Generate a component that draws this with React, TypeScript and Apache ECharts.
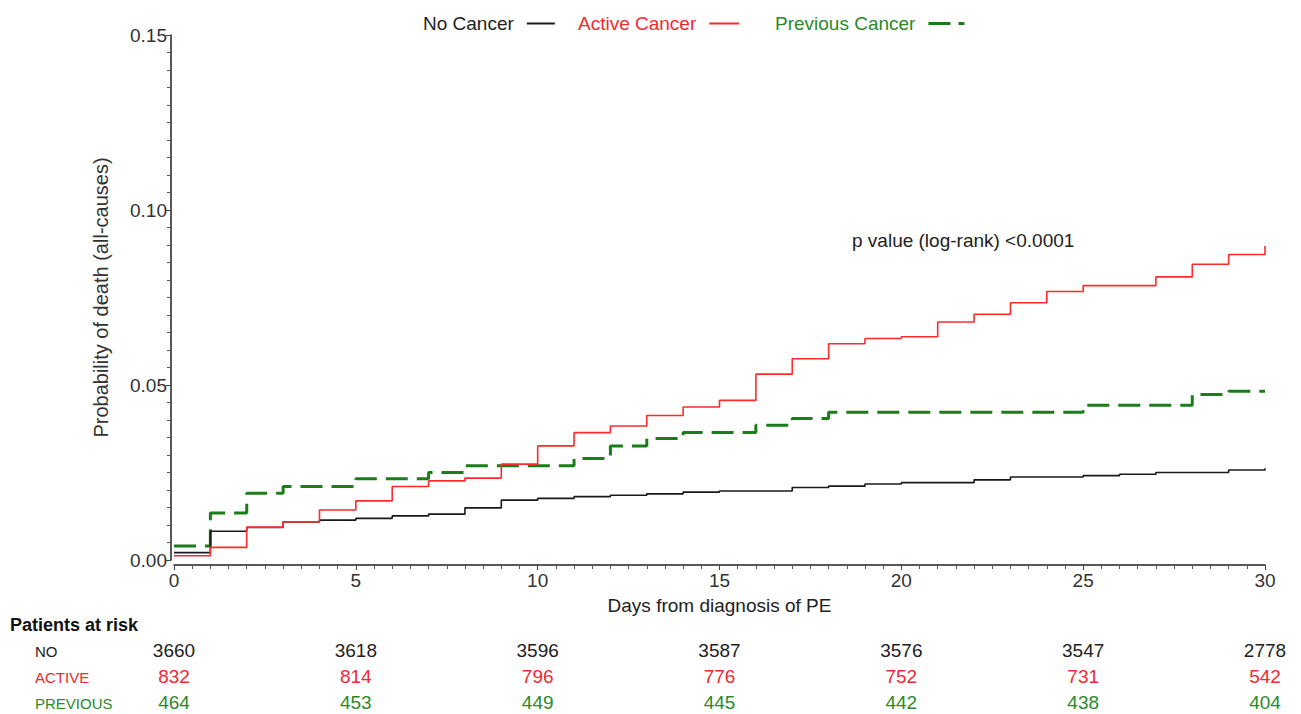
import React, { useEffect, useRef } from "react";
import * as echarts from "echarts";

const days = [0, 1, 2, 3, 4, 5, 6, 7, 8, 9, 10, 11, 12, 13, 14, 15, 16, 17, 18, 19, 20, 21, 22, 23, 24, 25, 26, 27, 28, 29, 30];

const noCancer = [0.0021, 0.0082, 0.0093, 0.0109, 0.0114, 0.0119, 0.0126, 0.0131, 0.0149, 0.0171, 0.0176, 0.0181, 0.0185, 0.0189, 0.0194, 0.0197, 0.0197, 0.0207, 0.0211, 0.0217, 0.0221, 0.0221, 0.0229, 0.0237, 0.0237, 0.0241, 0.0245, 0.025, 0.025, 0.0257, 0.0262];
const activeCancer = [0.0012, 0.0036, 0.0094, 0.0109, 0.0143, 0.0169, 0.021, 0.0226, 0.0234, 0.0274, 0.0326, 0.0364, 0.0383, 0.0413, 0.0437, 0.0456, 0.0531, 0.0575, 0.0618, 0.0633, 0.0638, 0.068, 0.0702, 0.0735, 0.0767, 0.0784, 0.0784, 0.0809, 0.0845, 0.0873, 0.0897];
const previousCancer = [0.004, 0.0134, 0.0191, 0.021, 0.021, 0.0232, 0.0232, 0.025, 0.0269, 0.0269, 0.0269, 0.029, 0.0326, 0.0347, 0.0364, 0.0364, 0.0385, 0.0404, 0.0422, 0.0422, 0.0422, 0.0422, 0.0422, 0.0422, 0.0422, 0.0442, 0.0442, 0.0442, 0.0473, 0.0482, 0.0482];

const riskDays = [0, 5, 10, 15, 20, 25, 30];
const riskNo = [3660, 3618, 3596, 3587, 3576, 3547, 2778];
const riskActive = [832, 814, 796, 776, 752, 731, 542];
const riskPrevious = [464, 453, 449, 445, 442, 438, 404];

const FONT = "'Liberation Sans', Arial, sans-serif";
const BLACK = "#1a1a1a";
const RED = "#ff2a2a";
const GREEN = "#1a7d1a";
const RED_TEXT = "#ee2a33";
const GREEN_TEXT = "#2a8a2a";

function pair(vals: number[]) {
  return days.map((d, i) => [d, vals[i]]);
}

function riskAxis(vals: number[], color: string, offset: number) {
  return {
    type: "value",
    position: "bottom",
    gridIndex: 0,
    min: 0,
    max: 30,
    interval: 5,
    offset,
    axisLine: { show: false },
    axisTick: { show: false },
    splitLine: { show: false },
    axisLabel: {
      margin: 8,
      color,
      fontFamily: FONT,
      fontSize: 19,
      formatter: (v: number) => {
        const idx = riskDays.indexOf(v);
        return idx >= 0 ? String(vals[idx]) : "";
      },
    },
  };
}

function legendAt(name: string, left: number, textColor: string, iconColor: string, icon: string, width: number, height: number) {
  return {
    data: [{ name, icon }],
    left,
    top: 9,
    align: "right",
    itemWidth: width,
    itemHeight: height,
    itemStyle: { color: iconColor },
    textStyle: { color: textColor, fontFamily: FONT, fontSize: 19, padding: [0, 8, 0, 0] },
  };
}

export default function App() {
  const ref = useRef<HTMLDivElement>(null);
  useEffect(() => {
    if (!ref.current) return;
    const chart = echarts.init(ref.current, null, { renderer: "svg" });
    chart.setOption({
      animation: false,
      backgroundColor: "#ffffff",
      grid: { left: 174, right: 36, top: 35, bottom: 154, containLabel: false },
      legend: [
        legendAt("No Cancer", 418, "#222", BLACK, "rect", 28, 2),
        legendAt("Active Cancer", 573, RED_TEXT, RED, "rect", 30, 2),
        legendAt("Previous Cancer", 770, GREEN_TEXT, GREEN, "path://M0,0h22v3h-22z M30,0h6v3h-6z", 36, 3),
      ],
      xAxis: [
        {
          type: "value",
          min: 0,
          max: 30,
          interval: 5,
          offset: 5,
          name: "Days from diagnosis of PE",
          nameLocation: "middle",
          nameGap: 31,
          nameTextStyle: { color: "#222", fontFamily: FONT, fontSize: 19 },
          axisLine: { show: true, onZero: false, lineStyle: { color: "#222", width: 1.5 } },
          axisTick: { show: true, length: 5, lineStyle: { color: "#444" } },
          minorTick: { show: true, splitNumber: 10, length: 4, lineStyle: { color: "#555" } },
          splitLine: { show: false },
          axisLabel: { color: "#333", fontFamily: FONT, fontSize: 19, margin: 6 },
        },
        riskAxis(riskNo, "#222", 73),
        riskAxis(riskActive, RED_TEXT, 99),
        riskAxis(riskPrevious, GREEN_TEXT, 125),
      ],
      yAxis: {
        type: "value",
        min: 0,
        max: 0.15,
        interval: 0.05,
        offset: 3,
        name: "Probability of death (all-causes)",
        nameLocation: "middle",
        nameGap: 60,
        nameTextStyle: { color: "#333", fontFamily: FONT, fontSize: 20 },
        axisLine: { show: true, onZero: false, lineStyle: { color: "#222", width: 1.5 } },
        axisTick: { show: true, length: 5, lineStyle: { color: "#444" } },
        minorTick: { show: true, splitNumber: 10, length: 4, lineStyle: { color: "#555" } },
        splitLine: { show: false },
        axisLabel: {
          color: "#333",
          fontFamily: FONT,
          fontSize: 19,
          margin: 4,
          formatter: (v: number) => v.toFixed(2),
        },
      },
      series: [
        {
          name: "No Cancer",
          type: "line",
          step: "end",
          symbol: "none",
          data: pair(noCancer),
          lineStyle: { color: BLACK, width: 1.6 },
          itemStyle: { color: BLACK },
          z: 3,
        },
        {
          name: "Active Cancer",
          type: "line",
          step: "end",
          symbol: "none",
          data: pair(activeCancer),
          lineStyle: { color: RED, width: 1.6 },
          itemStyle: { color: RED },
          z: 4,
        },
        {
          name: "Previous Cancer",
          type: "line",
          step: "end",
          symbol: "none",
          data: pair(previousCancer),
          lineStyle: { color: GREEN, width: 3, type: [22, 9] },
          itemStyle: { color: GREEN },
          z: 2,
        },
      ],
      graphic: [
        {
          type: "text",
          left: 852,
          top: 231,
          style: { text: "p value (log-rank) <0.0001", fill: "#222", font: `19px ${FONT}` },
        },
        {
          type: "text",
          left: 10,
          top: 616,
          style: { text: "Patients at risk", fill: "#111", font: `bold 18px ${FONT}` },
        },
        {
          type: "text",
          left: 35,
          top: 644,
          style: { text: "NO", fill: "#222", font: `15px ${FONT}` },
        },
        {
          type: "text",
          left: 35,
          top: 670,
          style: { text: "ACTIVE", fill: RED_TEXT, font: `15px ${FONT}` },
        },
        {
          type: "text",
          left: 35,
          top: 696,
          style: { text: "PREVIOUS", fill: GREEN_TEXT, font: `15px ${FONT}` },
        },
      ],
    });
    return () => chart.dispose();
  }, []);
  return (
    <div
      ref={ref}
      style={{ position: "absolute", left: 0, top: 0, width: 1301, height: 714 }}
    />
  );
}
